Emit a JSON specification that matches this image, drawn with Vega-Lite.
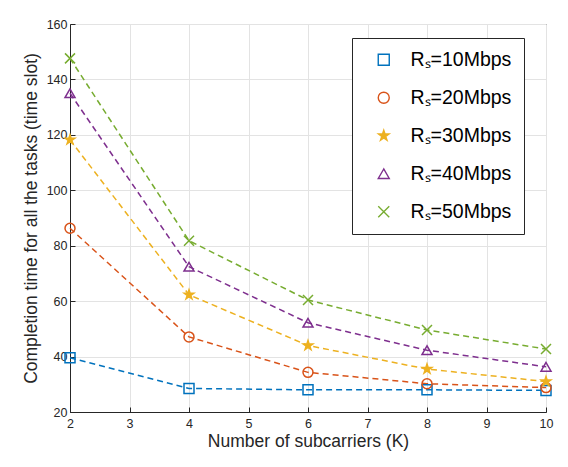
{
  "$schema": "https://vega.github.io/schema/vega-lite/v6.json",
  "width": 476,
  "height": 388,
  "autosize": "none",
  "padding": {"left": 70, "top": 24, "right": 22, "bottom": 55},
  "background": "white",
  "config": {
    "view": {"stroke": "#262626", "strokeWidth": 1},
    "font": "Liberation Sans",
    "axis": {
      "labelFont": "Liberation Sans",
      "titleFont": "Liberation Sans",
      "labelColor": "#262626",
      "titleColor": "#262626",
      "domainColor": "#262626",
      "tickColor": "#262626",
      "gridColor": "#e3e3e3",
      "gridOpacity": 1,
      "labelFontSize": 12.5,
      "titleFontSize": 17.5,
      "titleFontWeight": "normal"
    }
  },
  "data": {
    "values": [
      {"K": 2, "series": "Rₛ=10Mbps", "time": 39.6},
      {"K": 4, "series": "Rₛ=10Mbps", "time": 28.5},
      {"K": 6, "series": "Rₛ=10Mbps", "time": 28},
      {"K": 8, "series": "Rₛ=10Mbps", "time": 28},
      {"K": 10, "series": "Rₛ=10Mbps", "time": 27.8},
      {"K": 2, "series": "Rₛ=20Mbps", "time": 86.3},
      {"K": 4, "series": "Rₛ=20Mbps", "time": 47.1},
      {"K": 6, "series": "Rₛ=20Mbps", "time": 34.3},
      {"K": 8, "series": "Rₛ=20Mbps", "time": 30.2},
      {"K": 10, "series": "Rₛ=20Mbps", "time": 28.8},
      {"K": 2, "series": "Rₛ=30Mbps", "time": 118.2},
      {"K": 4, "series": "Rₛ=30Mbps", "time": 62.3},
      {"K": 6, "series": "Rₛ=30Mbps", "time": 44},
      {"K": 8, "series": "Rₛ=30Mbps", "time": 35.5},
      {"K": 10, "series": "Rₛ=30Mbps", "time": 31},
      {"K": 2, "series": "Rₛ=40Mbps", "time": 135},
      {"K": 4, "series": "Rₛ=40Mbps", "time": 72.4},
      {"K": 6, "series": "Rₛ=40Mbps", "time": 52.2},
      {"K": 8, "series": "Rₛ=40Mbps", "time": 42.3},
      {"K": 10, "series": "Rₛ=40Mbps", "time": 36.3},
      {"K": 2, "series": "Rₛ=50Mbps", "time": 147.6},
      {"K": 4, "series": "Rₛ=50Mbps", "time": 81.8},
      {"K": 6, "series": "Rₛ=50Mbps", "time": 60.4},
      {"K": 8, "series": "Rₛ=50Mbps", "time": 49.6},
      {"K": 10, "series": "Rₛ=50Mbps", "time": 42.7}
    ]
  },
  "layer": [
    {
      "mark": {"type": "line", "strokeDash": [6, 4], "strokeWidth": 1.5},
      "encoding": {
        "x": {
          "field": "K", "type": "quantitative",
          "scale": {"domain": [2, 10], "nice": false},
          "axis": {"title": "Number of subcarriers (K)", "values": [2,3,4,5,6,7,8,9,10], "format": "d", "tickSize": -5, "labelPadding": 10, "titlePadding": 3, "labelFlush": false}
        },
        "y": {
          "field": "time", "type": "quantitative",
          "scale": {"domain": [20, 160], "nice": false, "zero": false},
          "axis": {"title": "Completion time for all the tasks (time slot)", "values": [20,40,60,80,100,120,140,160], "format": "d", "tickSize": -5, "labelPadding": 8, "titlePadding": 6, "labelFlush": false}
        },
        "stroke": {
          "field": "series", "type": "nominal",
          "scale": {"domain": ["Rₛ=10Mbps","Rₛ=20Mbps","Rₛ=30Mbps","Rₛ=40Mbps","Rₛ=50Mbps"], "range": ["#0072BD","#D95319","#EDB120","#7E2F8E","#77AC30"]},
          "legend": {
            "title": null,
            "orient": "none",
            "legendX": 282,
            "legendY": 14,
            "padding": 12,
            "fillColor": "white",
            "strokeColor": "#262626",
            "cornerRadius": 0,
            "labelFont": "Liberation Sans",
            "labelFontSize": 19.5,
            "labelColor": "#000000",
            "labelLimit": 300,
            "symbolSize": 121,
            "symbolOffset": 10,
            "labelOffset": 17,
            "rowPadding": 17,
            "symbolStrokeWidth": 1.4,
            "symbolDash": []
          }
        },
        "detail": {"field": "series"}
      }
    },
    {
      "mark": {"type": "point", "strokeWidth": 1.5, "size": 100, "opacity": 1},
      "encoding": {
        "x": {"field": "K", "type": "quantitative"},
        "y": {"field": "time", "type": "quantitative"},
        "stroke": {
          "field": "series", "type": "nominal",
          "legend": null
        },
        "fill": {
          "field": "series", "type": "nominal",
          "scale": {"domain": ["Rₛ=10Mbps","Rₛ=20Mbps","Rₛ=30Mbps","Rₛ=40Mbps","Rₛ=50Mbps"], "range": ["transparent","transparent","#EDB120","transparent","transparent"]},
          "legend": null
        },
        "shape": {
          "field": "series", "type": "nominal",
          "scale": {"domain": ["Rₛ=10Mbps","Rₛ=20Mbps","Rₛ=30Mbps","Rₛ=40Mbps","Rₛ=50Mbps"], "range": ["square","circle","M0,-1L0.225,-0.309L0.951,-0.309L0.363,0.118L0.588,0.809L0,0.382L-0.588,0.809L-0.363,0.118L-0.951,-0.309L-0.225,-0.309Z","triangle-up","M-1,-1L1,1M-1,1L1,-1"]},
          "legend": null
        }
      }
    }
  ]
}
